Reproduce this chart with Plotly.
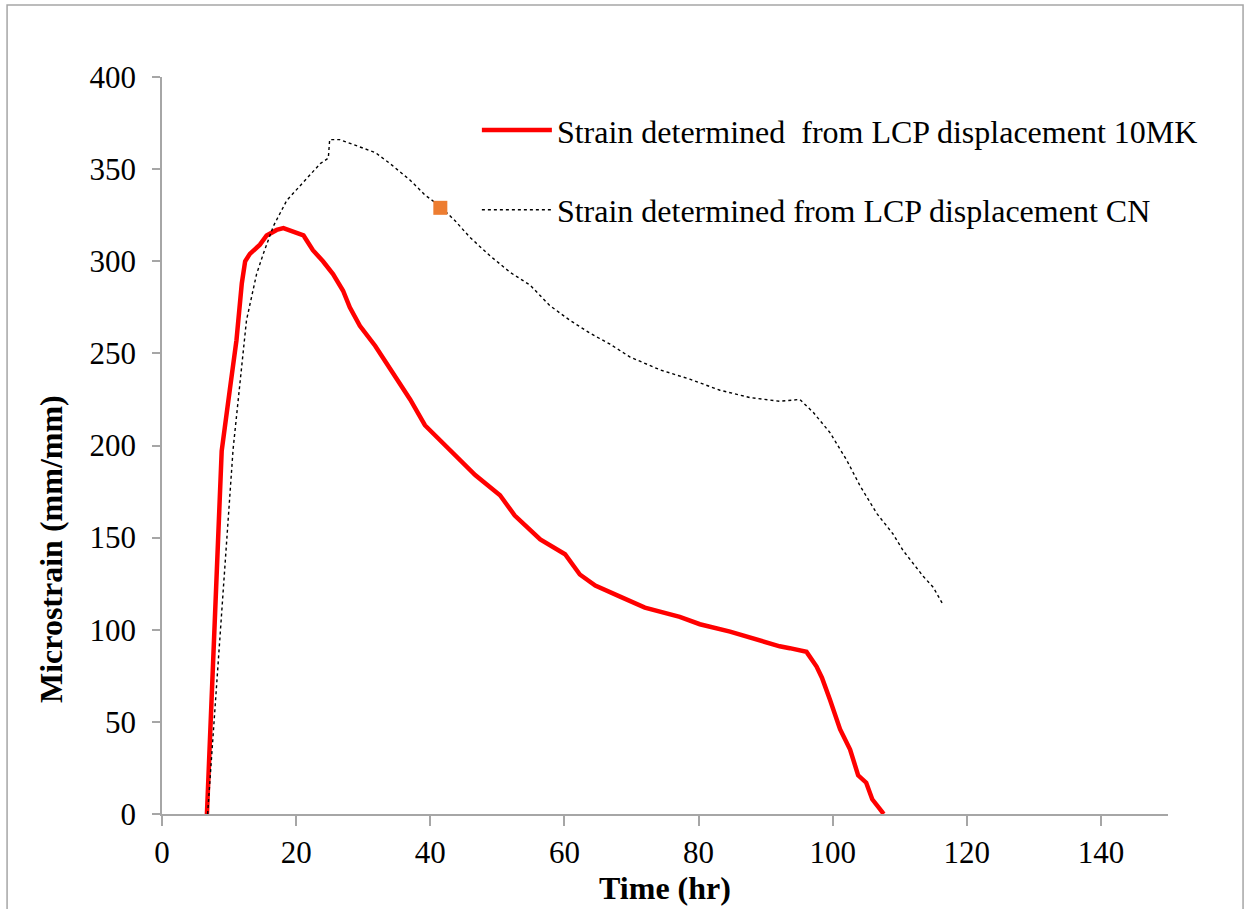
import plotly.graph_objects as go

# 10MK series (red)
mk_time = [6.7, 8.9, 10.1, 11.1, 11.9, 12.4, 13.1, 14.6, 15.6, 17.1, 18.1, 19.6, 21.1, 22.5, 24.0,
           25.5, 27.0, 28.0, 29.5, 31.8, 34.7, 37.0, 39.2, 41.4, 43.7, 46.7, 50.4, 52.6, 56.4,
           60.1, 62.3, 64.6, 68.3, 72.0, 77.2, 80.2, 84.7, 89.2, 92.1, 93.6, 96.1, 97.6, 98.4,
           99.6, 101.1, 102.6, 103.8, 105.0, 105.9, 107.4, 107.6]
mk_strain = [0, 197, 230, 257, 288, 300, 304, 309, 314, 317, 318, 316, 314, 306, 300,
             293, 284, 275, 265, 254, 238, 225, 211, 203, 195, 184, 173, 162, 149,
             141, 130, 124, 118, 112, 107, 103, 99, 94, 91, 90, 88, 80, 74,
             62, 46, 35, 21, 17, 8, 1, 0]

# CN series (black dotted)
cn_time = [6.8, 8.2, 10.6, 12.6, 14.1, 15.1, 16.6, 18.6, 20.6, 23.6, 24.8, 25.0, 26.5, 29.5,
           31.8, 34.0, 37.0, 39.2, 41.4, 43.7, 45.9, 48.9, 51.9, 54.9, 57.8, 60.8, 63.8,
           66.8, 69.8, 74.3, 78.7, 83.2, 87.7, 92.1, 95.1, 97.1, 99.6, 102.1, 104.1, 106.6,
           109.0, 110.5, 113.5, 115.0, 116.4]
cn_strain = [0, 71, 198, 268, 293, 304, 319, 333, 341, 353, 356, 366, 366, 362,
             359, 353, 344, 336, 330, 322, 313, 303, 294, 287, 276, 268, 261,
             255, 248, 241, 236, 230, 226, 224, 225, 218, 207, 192, 178, 163,
             152, 143, 129, 123, 114]

# single orange marker
pt_time = [41.5]
pt_strain = [329]

x_ticks = [0, 20, 40, 60, 80, 100, 120, 140]
y_ticks = [0, 50, 100, 150, 200, 250, 300, 350, 400]

FONT = "Liberation Serif, Times New Roman, serif"

fig = go.Figure()
fig.add_trace(go.Scatter(
    x=mk_time, y=mk_strain, mode="lines",
    name="Strain determined  from LCP displacement 10MK",
    line=dict(color="#ff0000", width=4.5), legendgroup="a"))
fig.add_trace(go.Scatter(
    x=cn_time, y=cn_strain, mode="lines",
    name="Strain determined from LCP displacement CN",
    line=dict(color="#000000", width=1.4, dash="dot"), legendgroup="b"))
fig.add_trace(go.Scatter(
    x=pt_time, y=pt_strain, mode="markers", showlegend=False,
    marker=dict(symbol="square", size=14, color="#ed7d31")))

fig.update_layout(
    width=1253, height=909,
    paper_bgcolor="white", plot_bgcolor="white",
    margin=dict(l=162, r=85, t=77, b=95),
    font=dict(family=FONT, size=31, color="black"),
    showlegend=True,
    legend=dict(x=0.313, y=0.965, xanchor="left", yanchor="top",
                bgcolor="rgba(0,0,0,0)", font=dict(size=32),
                itemwidth=70, tracegroupgap=35),
    shapes=[dict(type="rect", xref="paper", yref="paper",
                 x0=-0.154, x1=1.0746, y0=-0.2, y1=1.0977,
                 line=dict(color="#a6a6a6", width=1.5))],
    annotations=[dict(text="<b>Microstrain (mm/mm)</b>", textangle=-90,
                      xref="paper", yref="paper", x=-0.111, y=0.36,
                      xanchor="center", yanchor="middle", showarrow=False,
                      font=dict(size=32))],
)
fig.update_xaxes(
    range=[0, 150], tickvals=x_ticks, ticktext=[str(v) for v in x_ticks],
    showline=True, linecolor="#a6a6a6", linewidth=1.5,
    ticks="outside", ticklen=10, tickcolor="#a6a6a6", tickwidth=1.5,
    showgrid=False, zeroline=False,
    title=dict(text="<b>Time (hr)</b>", font=dict(size=32), standoff=6))
fig.update_yaxes(
    range=[0, 400], tickvals=y_ticks, ticktext=[str(v) for v in y_ticks],
    showline=True, linecolor="#a6a6a6", linewidth=1.5,
    ticks="outside", ticklen=8, tickcolor="#a6a6a6", tickwidth=1.5,
    ticklabelstandoff=10,
    showgrid=False, zeroline=False)

fig.write_html("out.html")
